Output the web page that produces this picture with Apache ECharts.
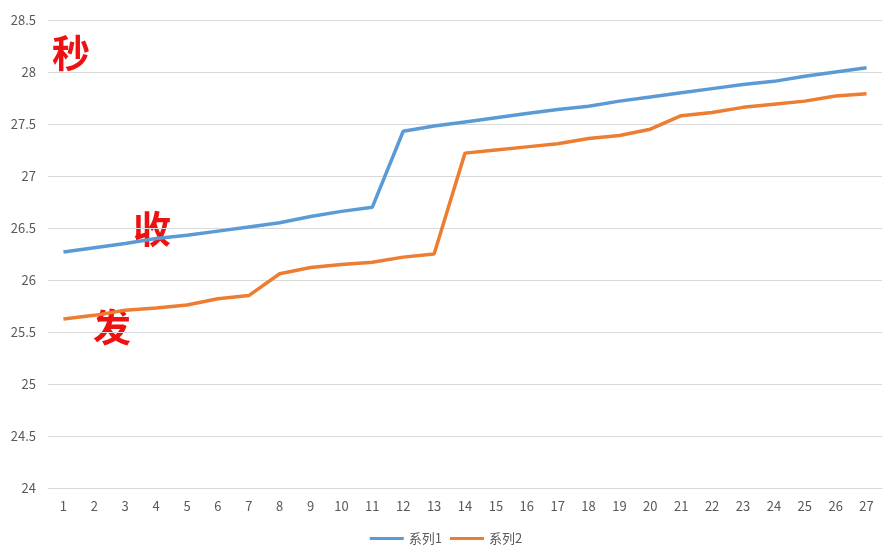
<!DOCTYPE html><html><head><meta charset="utf-8"><script src="https://cdn.jsdelivr.net/npm/echarts@6/dist/echarts.min.js"></script></head><body style="margin:0"><div id="c" style="width:892px;height:556px"></div><script>
const categories=[1,2,3,4,5,6,7,8,9,10,11,12,13,14,15,16,17,18,19,20,21,22,23,24,25,26,27].map(String);
const series1=[26.27,26.31,26.35,26.40,26.43,26.47,26.51,26.55,26.61,26.66,26.70,27.43,27.48,27.52,27.56,27.60,27.64,27.67,27.72,27.76,27.80,27.84,27.88,27.91,27.96,28.00,28.04];
const series2=[25.625,25.66,25.71,25.73,25.76,25.82,25.85,26.06,26.12,26.15,26.17,26.22,26.25,27.22,27.25,27.28,27.31,27.36,27.39,27.45,27.58,27.61,27.66,27.69,27.72,27.77,27.79];
const c=echarts.init(document.getElementById('c'));
const f='"Microsoft YaHei","Noto Sans CJK SC",sans-serif';
c.setOption({animation:false,textStyle:{fontFamily:f},
grid:{left:48,right:10,top:20,bottom:68},
legend:{bottom:6,itemWidth:34,itemHeight:3,icon:'rect',textStyle:{color:'#595959',fontSize:13},data:['系列1','系列2']},
xAxis:{type:'category',data:categories,axisTick:{show:false},axisLine:{lineStyle:{color:'#d9d9d9'}},axisLabel:{color:'#595959',fontSize:13,margin:12}},
yAxis:{type:'value',min:24,max:28.5,interval:0.5,axisLabel:{color:'#595959',fontSize:13,margin:12,formatter:v=>String(Math.round(v*10)/10)},splitLine:{lineStyle:{color:'#d9d9d9'}}},
series:[{name:'系列1',type:'line',data:series1,symbol:'none',lineStyle:{width:3.5,color:'#5b9bd5'},itemStyle:{color:'#5b9bd5'}},
{name:'系列2',type:'line',data:series2,symbol:'none',lineStyle:{width:3.5,color:'#ed7d31'},itemStyle:{color:'#ed7d31'}}],
graphic:[{type:'text',left:52,top:34,style:{text:'秒',fill:'#ee1111',font:'bold 38px '+f}},
{type:'text',left:133,top:210,style:{text:'收',fill:'#ee1111',font:'bold 38px '+f}},
{type:'text',left:93,top:308,style:{text:'发',fill:'#ee1111',font:'bold 38px '+f}}]});
</script></body></html>
